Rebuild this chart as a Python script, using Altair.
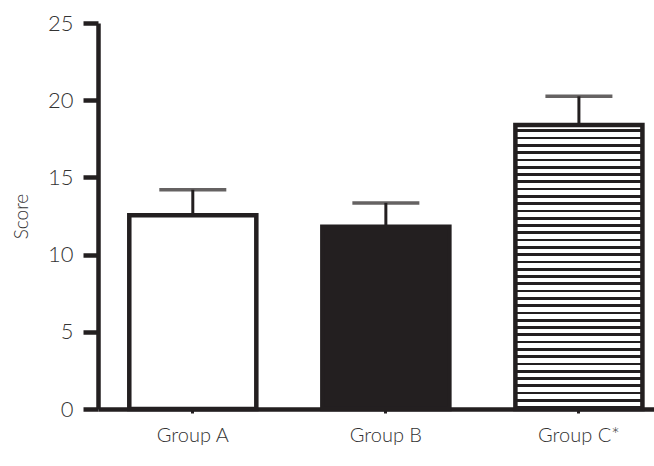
import altair as alt
import pandas as pd

groups = ["Group A", "Group B", "Group C*"]
means = [12.55, 11.8, 18.4]
uppers = [14.2, 13.35, 20.25]
fills = ["white", "#231f20", "striped"]

df = pd.DataFrame({"group": groups, "score": means, "upper": uppers, "fill": fills})

DARK = "#231f20"
TXT = "#333333"
FONT = "Lato"

# horizontal stripe pattern (style) for Group C*
n_stripes = 39
stops = []
for k in range(n_stripes):
    p = 1.0 / n_stripes
    a = k * p
    stops += [
        alt.GradientStop(offset=a, color="white"),
        alt.GradientStop(offset=a + 0.62 * p, color="white"),
        alt.GradientStop(offset=a + 0.62 * p, color=DARK),
        alt.GradientStop(offset=a + p, color=DARK),
    ]
stripe_fill = alt.LinearGradient(gradient="linear", x1=0, y1=0, x2=0, y2=1, stops=stops)

xscale = alt.Scale(domain=groups, paddingInner=0.342, paddingOuter=0.111, align=0.73)
yscale = alt.Scale(domain=[0, 25], nice=False)

x = alt.X("group:N", scale=xscale, sort=groups, title=None,
          axis=alt.Axis(labelAngle=0, labelFont=FONT, labelFontSize=20, labelFontWeight=300,
                        labelColor=TXT, labelPadding=12, domainColor=DARK, domainWidth=4.5,
                        tickColor=DARK, tickSize=4, tickWidth=3))
y = alt.Y("score:Q", scale=yscale, title="Score",
          axis=alt.Axis(values=[0, 5, 10, 15, 20, 25], grid=False,
                        labelFont=FONT, labelFontSize=22, labelFontWeight=300,
                        labelColor=TXT, labelPadding=10,
                        titleFont=FONT, titleFontSize=19, titleFontWeight=300,
                        titleColor=TXT, titlePadding=16,
                        domainColor=DARK, domainWidth=4.5,
                        tickColor=DARK, tickSize=15, tickWidth=4.5))

base = alt.Chart(df)

stem = base.mark_rule(color=DARK, strokeWidth=3).encode(x=x, y=y, y2="upper:Q")
cap = base.mark_tick(color=DARK, size=67, thickness=3.5, orient="horizontal").encode(
    x=x, y=alt.Y("upper:Q", scale=yscale))

bars_ab = base.transform_filter(alt.datum.fill != "striped").mark_bar(
    stroke=DARK, strokeWidth=4.5).encode(
    x=x, y=y,
    fill=alt.Fill("fill:N", scale=alt.Scale(domain=["white", "#231f20"],
                                            range=["white", DARK]), legend=None))

bar_c = base.transform_filter(alt.datum.fill == "striped").mark_bar(
    stroke=DARK, strokeWidth=4.5, fill=stripe_fill).encode(x=x, y=y)

chart = alt.layer(stem, cap, bars_ab, bar_c).properties(
    width=556, height=386,
    autosize=alt.AutoSizeParams(type="none"),
    padding={"left": 98, "top": 23, "right": 0, "bottom": 57},
    background="white",
).configure_view(stroke=None)

chart.save("out.html", embed_options={"renderer": "svg", "actions": False})
